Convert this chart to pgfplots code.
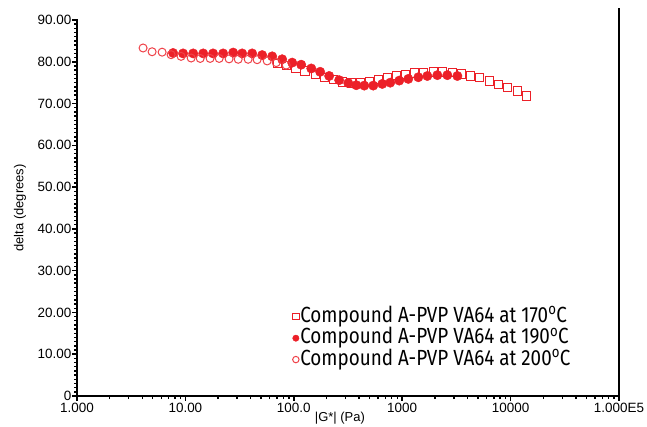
\documentclass[border=0pt]{standalone}
\usepackage{pgfplots}
\pgfplotsset{compat=1.18}
\usepackage{fontspec}
\setmainfont{Liberation Sans}
\newfontfamily\legfont[FakeStretch=0.86]{Fira Sans}
\definecolor{markred}{RGB}{236,32,40}

% |G*| (Pa) versus phase angle delta (degrees)
\pgfplotstableread{
x y
70.3 79.6
85.1 79.1
105 78.5
127 77.8
158 77.0
191 76.3
231 75.7
280 75.2
339 74.9
410 74.9
497 75.2
601 75.7
728 76.2
882 76.7
1068 77.0
1294 77.3
1566 77.5
1936 77.6
2345 77.6
2902 77.4
3514 77.1
4254 76.6
5152 76.2
6370 75.4
7713 74.6
9340 73.8
11560 73.0
14000 71.8
}\tabA

\pgfplotstableread{
x y
7.70 82.1
9.52 82.0
11.8 82.0
14.6 82.0
18.0 82.0
22.3 82.0
27.6 82.2
33.4 82.0
41.3 82.0
51.1 81.6
63.2 81.3
78.1 80.6
96.6 79.8
117 79.3
145 78.4
175 77.6
212 76.6
262 75.6
318 74.9
377 74.4
447 74.3
541 74.3
655 74.7
776 75.0
940 75.5
1138 75.9
1409 76.3
1706 76.6
2110 76.8
2608 76.8
3228 76.6
}\tabB

\pgfplotstableread{
x y
4.07 83.3
4.93 82.4
6.10 82.3
7.38 81.7
9.12 81.3
11.3 80.9
13.7 80.8
16.9 80.8
20.5 80.8
25.3 80.7
30.7 80.6
37.9 80.6
45.9 80.5
56.8 80.2
68.8 79.8
85.1 79.2
}\tabC

\begin{document}
\begin{tikzpicture}
\useasboundingbox (-77bp,-31bp) rectangle (570bp,396bp);
\begin{axis}[
  scale only axis, width=542bp, height=376bp,
  xmode=log, xmin=1, xmax=1e5, ymin=0, ymax=90,
  axis line style={draw=none},
  xtick pos=bottom, ytick pos=left,
  xtick align=outside, ytick align=outside,
  major tick length=4.5bp, minor tick length=3bp,
  every tick/.append style={draw=black, line width=1.4bp},
  xtick={1,10,100,1000,10000,100000},
  xticklabels={1.000,10.00,100.0,1000,10000,1.000E5},
  ytick={0,10,20,30,40,50,60,70,80,90},
  yticklabels={0,10.00,20.00,30.00,40.00,50.00,60.00,70.00,80.00,90.00},
  minor ytick={1,2,...,89},
  tick label style={font=\fontsize{13.5}{15}\selectfont},
  yticklabel style={inner sep=1bp},
  xticklabel style={inner sep=2bp},
  xlabel={|G*| (Pa)},
  ylabel={delta (degrees)},
  label style={font=\fontsize{13}{15}\selectfont},
  xlabel style={at={(axis description cs:0.485,-0.058)}, anchor=center},
  ylabel style={at={(axis description cs:-0.105,0.5)}, anchor=center},
  clip=false,
  legend style={draw=none, fill=none, at={(axis description cs:0.392,0.245)}, anchor=north west,
    font=\legfont\fontsize{22}{23}\selectfont, row sep=0pt,
    nodes={inner sep=1.2bp, text height=15bp, text depth=4bp}},
  legend cell align=left,
  legend image code/.code={\draw[#1, mark size=3.2bp] plot coordinates {(0bp,0bp)};},
]
\addplot[only marks, color=markred, mark=square*, mark size=4.2bp,
  mark options={draw=markred, fill=white, line width=1bp}] table {\tabA};
\addlegendentry{Compound A-PVP VA64 at 170\textsuperscript{o}C}
\addplot[only marks, color=markred, mark=*, mark size=4.7bp,
  mark options={draw=markred, fill=markred}] table {\tabB};
\addlegendentry{Compound A-PVP VA64 at 190\textsuperscript{o}C}
\addplot[only marks, color=markred!85!white, mark=o, mark size=4.0bp,
  mark options={draw=markred!85!white, fill=none, line width=1bp}] table {\tabC};
\addlegendentry{Compound A-PVP VA64 at 200\textsuperscript{o}C}
% frame: left, bottom and right sides
\draw[line width=1.8bp, line cap=rect] (rel axis cs:0,1) -- (rel axis cs:0,0) -- (rel axis cs:1,0) -- (rel axis cs:1,1.03);
% tick marks on the left and bottom sides
\pgfplotsinvokeforeach{0,10,...,90}{\draw[line width=1.5bp] (axis cs:1,#1) -- ++(-4.5bp,0bp);}
\pgfplotsinvokeforeach{1,...,89}{\draw[line width=1.1bp] (axis cs:1,#1) -- ++(-3bp,0bp);}
\pgfplotsinvokeforeach{1,10,100,1000,10000,100000}{\draw[line width=1.5bp] (axis cs:#1,0) -- ++(0bp,-4.5bp);}
\pgfplotsinvokeforeach{2,3,4,5,6,7,8,9,20,30,40,50,60,70,80,90,200,300,400,500,600,700,800,900,2000,3000,4000,5000,6000,7000,8000,9000,20000,30000,40000,50000,60000,70000,80000,90000}{\draw[line width=1.3bp] (axis cs:#1,0) -- ++(0bp,-3bp);}
\end{axis}
\end{tikzpicture}
\end{document}
